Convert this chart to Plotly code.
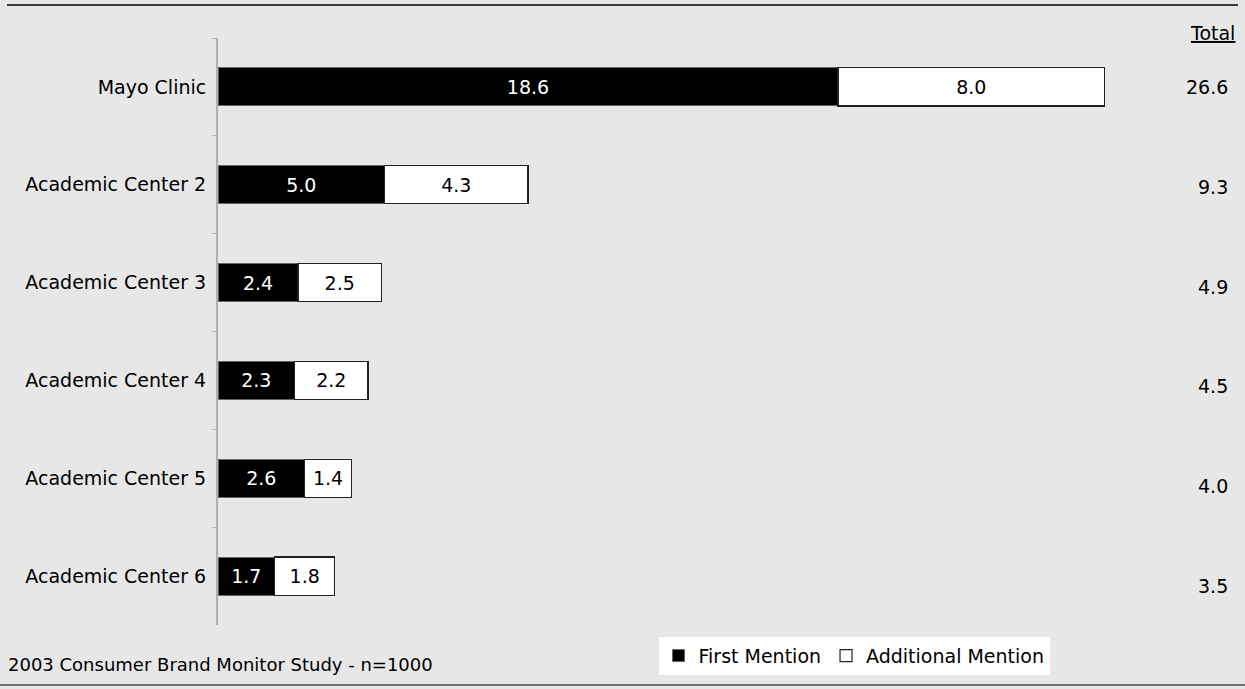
import plotly.graph_objects as go

categories = ["Mayo Clinic", "Academic Center 2", "Academic Center 3",
              "Academic Center 4", "Academic Center 5", "Academic Center 6"]
first_mention = [18.6, 5.0, 2.4, 2.3, 2.6, 1.7]
additional_mention = [8.0, 4.3, 2.5, 2.2, 1.4, 1.8]
totals = [26.6, 9.3, 4.9, 4.5, 4.0, 3.5]
footer_text = "2003 Consumer Brand Monitor Study - n=1000"

FONT = "DejaVu Sans"
FS = 19
BG = "#e7e7e7"

fig = go.Figure()
fig.add_trace(go.Bar(
    y=categories, x=first_mention, orientation="h", name="First Mention",
    marker=dict(color="black", line=dict(color="#666666", width=1)),
    texttemplate="%{x:.1f}", textposition="inside", insidetextanchor="middle",
    textfont=dict(color="white", size=FS, family=FONT), constraintext="none",
    width=0.39,
))
fig.add_trace(go.Bar(
    y=categories, x=additional_mention, orientation="h", name="Additional Mention",
    marker=dict(color="white", line=dict(color="#222222", width=1.2)),
    texttemplate="%{x:.1f}", textposition="inside", insidetextanchor="middle",
    textfont=dict(color="black", size=FS, family=FONT), constraintext="none",
    width=0.39,
))

annotations = []
for i, (c, t) in enumerate(zip(categories, totals)):
    annotations.append(dict(
        x=1.012, xref="paper", y=c, yref="y", text=f"{t:.1f}",
        showarrow=False, xanchor="right", yanchor="middle",
        yshift=-2 * i, font=dict(size=FS, family=FONT, color="black"),
    ))
annotations.append(dict(
    x=1.019, xref="paper", y=1.0085, yref="paper", text="<u>Total</u>",
    showarrow=False, xanchor="right", yanchor="middle",
    font=dict(size=FS, family=FONT, color="black"),
))
annotations.append(dict(
    x=-0.212, xref="paper", y=-0.068, yref="paper", text=footer_text,
    showarrow=False, xanchor="left", yanchor="middle",
    font=dict(size=18, family=FONT, color="black"),
))

fig.update_layout(
    width=1245, height=689,
    barmode="stack",
    paper_bgcolor=BG, plot_bgcolor=BG,
    margin=dict(l=218, r=27, t=38, b=64, autoexpand=False),
    font=dict(family=FONT, size=FS, color="black"),
    xaxis=dict(range=[0, 30], visible=False, showgrid=False, zeroline=False),
    yaxis=dict(
        autorange="reversed", showline=True, linecolor="#b0b0b0", linewidth=2,
        ticks="outside", ticklen=4, tickcolor="#b8b8b8", tickson="boundaries",
        showgrid=False, ticklabelstandoff=6,
        tickfont=dict(size=FS, family=FONT, color="black"),
    ),
    showlegend=True,
    legend=dict(
        orientation="h", x=0.636, y=-0.02, xanchor="center", yanchor="top",
        bgcolor="white", borderwidth=0, itemwidth=30,
        font=dict(size=FS, family=FONT, color="black"),
        traceorder="normal",
    ),
    annotations=annotations,
    shapes=[
        dict(type="line", xref="paper", yref="paper", x0=-0.211, x1=1.02,
             y0=(625 - 5) / 587, y1=(625 - 5) / 587,
             line=dict(color="#3a3a3a", width=2)),
        dict(type="line", xref="paper", yref="paper", x0=-0.218, x1=1.027,
             y0=(625 - 685) / 587, y1=(625 - 685) / 587,
             line=dict(color="#707070", width=2)),
    ],
)

fig.write_html("out.html")
